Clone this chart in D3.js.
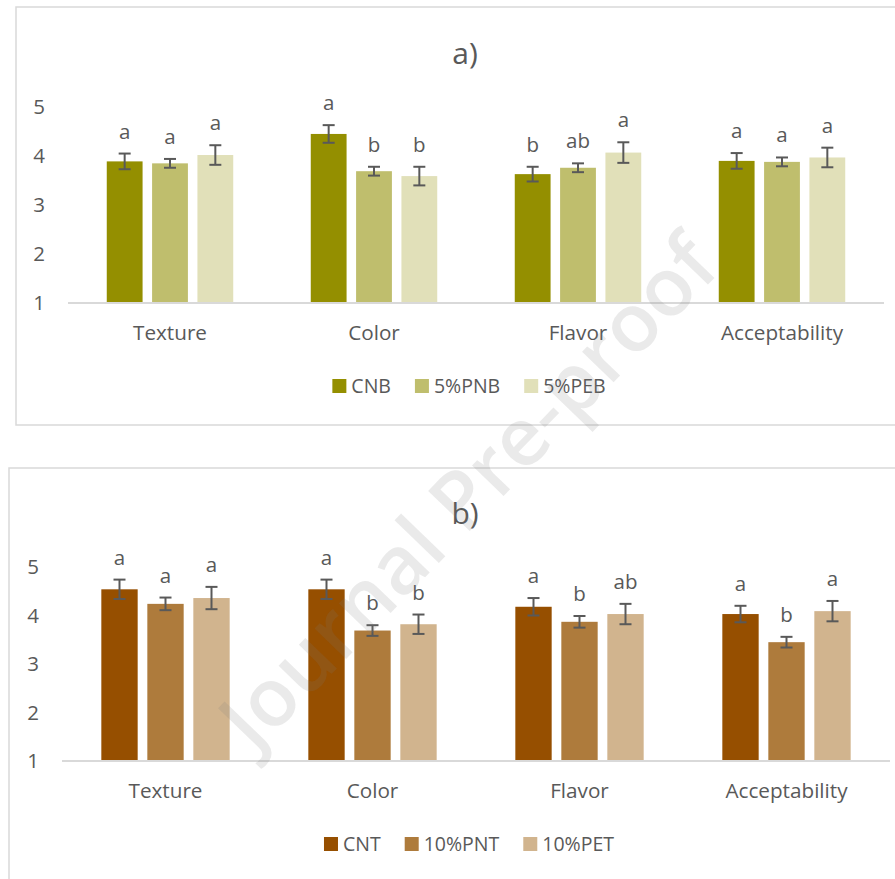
<!DOCTYPE html>
<html>
<head>
<meta charset="utf-8">
<script src="https://cdn.jsdelivr.net/npm/d3@7"></script>
<style>
  html, body { margin: 0; padding: 0; background: #fff; }
  svg { display: block; font-family: "Open Sans", "Noto Sans", sans-serif; }
</style>
</head>
<body>
<svg id="chart" width="895" height="879"></svg>
<script>
// Sensory attributes scored for each formulation
const categories = ["Texture", "Color", "Flavor", "Acceptability"];
const yTicks = [1, 2, 3, 4, 5];

// a) bread samples
const seriesA = ["CNB", "5%PNB", "5%PEB"];
const meansA = [
  [3.89, 4.45, 3.63, 3.90],
  [3.85, 3.69, 3.76, 3.88],
  [4.02, 3.59, 4.07, 3.97]
];
const errA = [
  [0.16, 0.18, 0.15, 0.16],
  [0.09, 0.09, 0.09, 0.09],
  [0.20, 0.19, 0.21, 0.20]
];
const lettersA = [
  ["a", "a", "b", "a"],
  ["a", "b", "ab", "a"],
  ["a", "b", "a", "a"]
];
const colorsA = ["#948f00", "#bfbe6d", "#e1e0b9"];

// b) second product samples
const seriesB = ["CNT", "10%PNT", "10%PET"];
const meansB = [
  [4.54, 4.54, 4.18, 4.03],
  [4.24, 3.69, 3.87, 3.45],
  [4.36, 3.82, 4.03, 4.09]
];
const errB = [
  [0.20, 0.20, 0.18, 0.17],
  [0.13, 0.11, 0.12, 0.11],
  [0.23, 0.20, 0.21, 0.21]
];
const lettersB = [
  ["a", "a", "a", "a"],
  ["a", "b", "b", "b"],
  ["a", "b", "ab", "a"]
];
const colorsB = ["#964f00", "#ae7b3c", "#d1b48e"];

const svg = d3.select("#chart");
const textColor = "#595959";
const gridColor = "#d9d9d9";

function drawPanel(p) {
  const g = svg.append("g");

  // frame around the panel
  g.append("rect")
    .attr("x", p.box[0]).attr("y", p.box[1])
    .attr("width", p.box[2]).attr("height", p.box[3])
    .attr("fill", "none").attr("stroke", gridColor).attr("stroke-width", 1.5);

  g.append("text")
    .attr("x", p.titleX).attr("y", p.titleY)
    .attr("text-anchor", "middle")
    .attr("font-size", 30).attr("fill", textColor)
    .text(p.title);

  const x0 = d3.scaleBand().domain(categories).range([p.x0, p.x1])
    .paddingInner(0.38).paddingOuter(0.19);
  const x1 = d3.scaleBand().domain(p.series).range([0, x0.bandwidth()])
    .paddingInner(0.21);
  const y = d3.scaleLinear().domain([1, 5]).range([p.yBase, p.yTop]);

  // value axis labels only (no line or ticks)
  g.selectAll(".ytick").data(yTicks).join("text")
    .attr("x", p.tickX).attr("y", d => y(d))
    .attr("dy", "0.35em")
    .attr("text-anchor", "end")
    .attr("font-size", 20.5).attr("fill", textColor)
    .text(d => d);

  // bars
  const rows = [];
  p.series.forEach((s, si) => {
    categories.forEach((c, ci) => {
      rows.push({ s, si, c, v: p.means[si][ci], e: p.err[si][ci], l: p.letters[si][ci] });
    });
  });
  const cx = d => x0(d.c) + x1(d.s) + x1.bandwidth() / 2;

  g.selectAll(".bar").data(rows).join("rect")
    .attr("x", d => x0(d.c) + x1(d.s))
    .attr("y", d => y(d.v))
    .attr("width", x1.bandwidth())
    .attr("height", d => y(1) - y(d.v))
    .attr("fill", d => p.colors[d.si]);

  // category axis line
  g.append("line")
    .attr("x1", p.x0).attr("x2", p.x1)
    .attr("y1", y(1)).attr("y2", y(1))
    .attr("stroke", gridColor).attr("stroke-width", 2);

  // error bars
  const cap = 6;
  const eb = g.selectAll(".err").data(rows).join("g")
    .attr("stroke", textColor).attr("stroke-width", 2);
  eb.append("line")
    .attr("x1", cx).attr("x2", cx)
    .attr("y1", d => y(d.v + d.e)).attr("y2", d => y(d.v - d.e));
  eb.append("line")
    .attr("x1", d => cx(d) - cap).attr("x2", d => cx(d) + cap)
    .attr("y1", d => y(d.v + d.e)).attr("y2", d => y(d.v + d.e));
  eb.append("line")
    .attr("x1", d => cx(d) - cap).attr("x2", d => cx(d) + cap)
    .attr("y1", d => y(d.v - d.e)).attr("y2", d => y(d.v - d.e));

  // significance letters
  g.selectAll(".letter").data(rows).join("text")
    .attr("x", cx)
    .attr("y", d => y(d.v + d.e) - 15)
    .attr("text-anchor", "middle")
    .attr("font-size", 20.5).attr("fill", textColor)
    .text(d => d.l);

  // category labels
  g.selectAll(".cat").data(categories).join("text")
    .attr("x", d => x0(d) + x0.bandwidth() / 2)
    .attr("y", p.catY)
    .attr("text-anchor", "middle")
    .attr("font-size", 20.7).attr("fill", textColor)
    .text(d => d);

  // legend, centred under the plot
  const lg = g.append("g");
  const gap = 24;
  let off = 0;
  p.series.forEach((s, i) => {
    const item = lg.append("g").attr("transform", `translate(${off},0)`);
    item.append("rect")
      .attr("x", 0).attr("y", -7).attr("width", 14).attr("height", 14)
      .attr("fill", p.colors[i]);
    const t = item.append("text")
      .attr("x", 19).attr("y", 0).attr("dy", "0.35em")
      .attr("font-size", 19.5).attr("fill", textColor)
      .text(s);
    off += 19 + t.node().getComputedTextLength() + gap;
  });
  const lw = off - gap;
  lg.attr("transform", `translate(${p.legendCX - lw / 2},${p.legendY})`);
}

drawPanel({
  title: "a)", titleX: 465, titleY: 64,
  box: [16, 7, 900, 418],
  x0: 68, x1: 884, yBase: 303, yTop: 107, tickX: 45,
  catY: 340, legendY: 386, legendCX: 469,
  series: seriesA, means: meansA, err: errA, letters: lettersA, colors: colorsA
});

drawPanel({
  title: "b)", titleX: 465, titleY: 524,
  box: [9, 468, 900, 420],
  x0: 62, x1: 890, yBase: 761, yTop: 567, tickX: 39,
  catY: 798, legendY: 844, legendCX: 469,
  series: seriesB, means: meansB, err: errB, letters: lettersB, colors: colorsB
});

// diagonal "Journal Pre-proof" stamp across the page
svg.append("text")
  .attr("transform", "translate(468,492) rotate(-46)")
  .attr("text-anchor", "middle")
  .attr("dy", "0.35em")
  .attr("font-size", 81)
  .attr("font-weight", 600)
  .attr("fill", "#7f7f7f")
  .attr("fill-opacity", 0.16)
  .text("Journal Pre-proof");
</script>
</body>
</html>
